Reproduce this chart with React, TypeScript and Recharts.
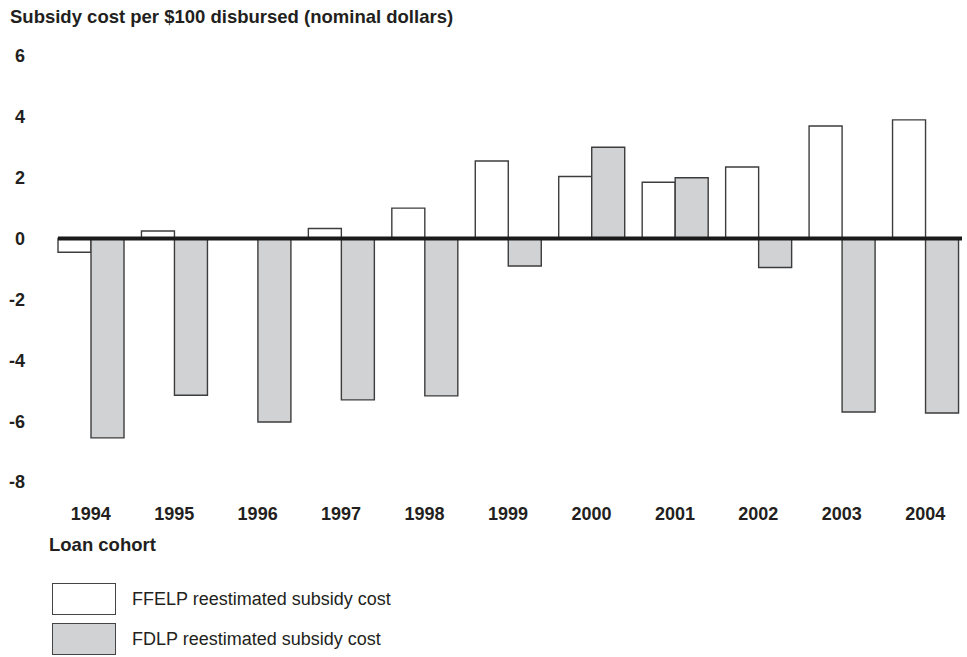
import { BarChart, Bar, XAxis, YAxis, ReferenceLine, Legend } from 'recharts';

const cohorts = ['1994', '1995', '1996', '1997', '1998', '1999', '2000', '2001', '2002', '2003', '2004'];
const ffelpCost = [-0.45, 0.25, 0, 0.33, 1.0, 2.55, 2.04, 1.85, 2.35, 3.7, 3.9];
const fdlpCost = [-6.55, -5.15, -6.03, -5.3, -5.17, -0.9, 3.0, 2.0, -0.95, -5.7, -5.73];
const yTicks = [-8, -6, -4, -2, 0, 2, 4, 6];
const seriesNames = ['FFELP reestimated subsidy cost', 'FDLP reestimated subsidy cost'];

const FONT = '"Liberation Sans", Arial, Helvetica, sans-serif';
const INK = '#231f20';

const data = cohorts.map((c, i) => ({ cohort: c, ffelp: ffelpCost[i], fdlp: fdlpCost[i] }));

function LegendBoxes(props: any) {
  // keep the series order, not the alphabetical one
  const items = [...(props.payload || [])].sort(
    (a: any, b: any) => seriesNames.indexOf(a.value) - seriesNames.indexOf(b.value)
  );
  return (
    <div style={{ fontFamily: FONT }}>
      {items.map((it: any) => (
        <div key={it.value} style={{ display: 'flex', alignItems: 'center', height: 40 }}>
          <div
            style={{
              width: 62,
              height: 30,
              background: it.payload?.fill ?? it.color,
              border: '1.5px solid #444',
            }}
          />
          <span style={{ marginLeft: 16, fontSize: 18, color: INK }}>{it.value}</span>
        </div>
      ))}
    </div>
  );
}

export default function App() {
  return (
    <div style={{ position: 'absolute', left: 0, top: 0, width: 967, height: 657, background: '#fff', fontFamily: FONT }}>
      <div style={{ position: 'absolute', left: 10, top: 7, fontSize: 18.5, lineHeight: '20px', fontWeight: 'bold', color: INK, whiteSpace: 'nowrap' }}>
        Subsidy cost per $100 disbursed (nominal dollars)
      </div>
      <div style={{ position: 'absolute', left: 49, top: 535, fontSize: 18.5, lineHeight: '20px', fontWeight: 'bold', color: INK }}>
        Loan cohort
      </div>
      <BarChart
        width={967}
        height={657}
        data={data}
        margin={{ top: 56, right: 5, left: 0, bottom: 115 }}
        barGap={0}
        barSize={33}
      >
        <XAxis
          dataKey="cohort"
          axisLine={false}
          tickLine={false}
          tickSize={0}
          tickMargin={25}
          height={60}
          padding={{ left: -9, right: -5 }}
          interval={0}
          tick={{ fill: INK, fontSize: 18, fontWeight: 'bold', fontFamily: FONT }}
        />
        <YAxis
          domain={[-8, 6]}
          ticks={yTicks}
          width={58}
          axisLine={false}
          tickLine={false}
          tickSize={0}
          tickMargin={33}
          tick={{ fill: INK, fontSize: 18, fontWeight: 'bold', fontFamily: FONT }}
        />
        <Bar
          dataKey="ffelp"
          name={seriesNames[0]}
          fill="#ffffff"
          stroke="#3d3d3d"
          strokeWidth={1.4}
          isAnimationActive={false}
        />
        <Bar
          dataKey="fdlp"
          name={seriesNames[1]}
          fill="#d1d2d4"
          stroke="#3d3d3d"
          strokeWidth={1.4}
          isAnimationActive={false}
        />
        <ReferenceLine y={0} stroke="#1a1a1a" strokeWidth={4} />
        <Legend
          layout="vertical"
          align="center"
          verticalAlign="middle"
          wrapperStyle={{ left: 52, top: 579, width: 400 }}
          content={<LegendBoxes />}
        />
      </BarChart>
    </div>
  );
}
